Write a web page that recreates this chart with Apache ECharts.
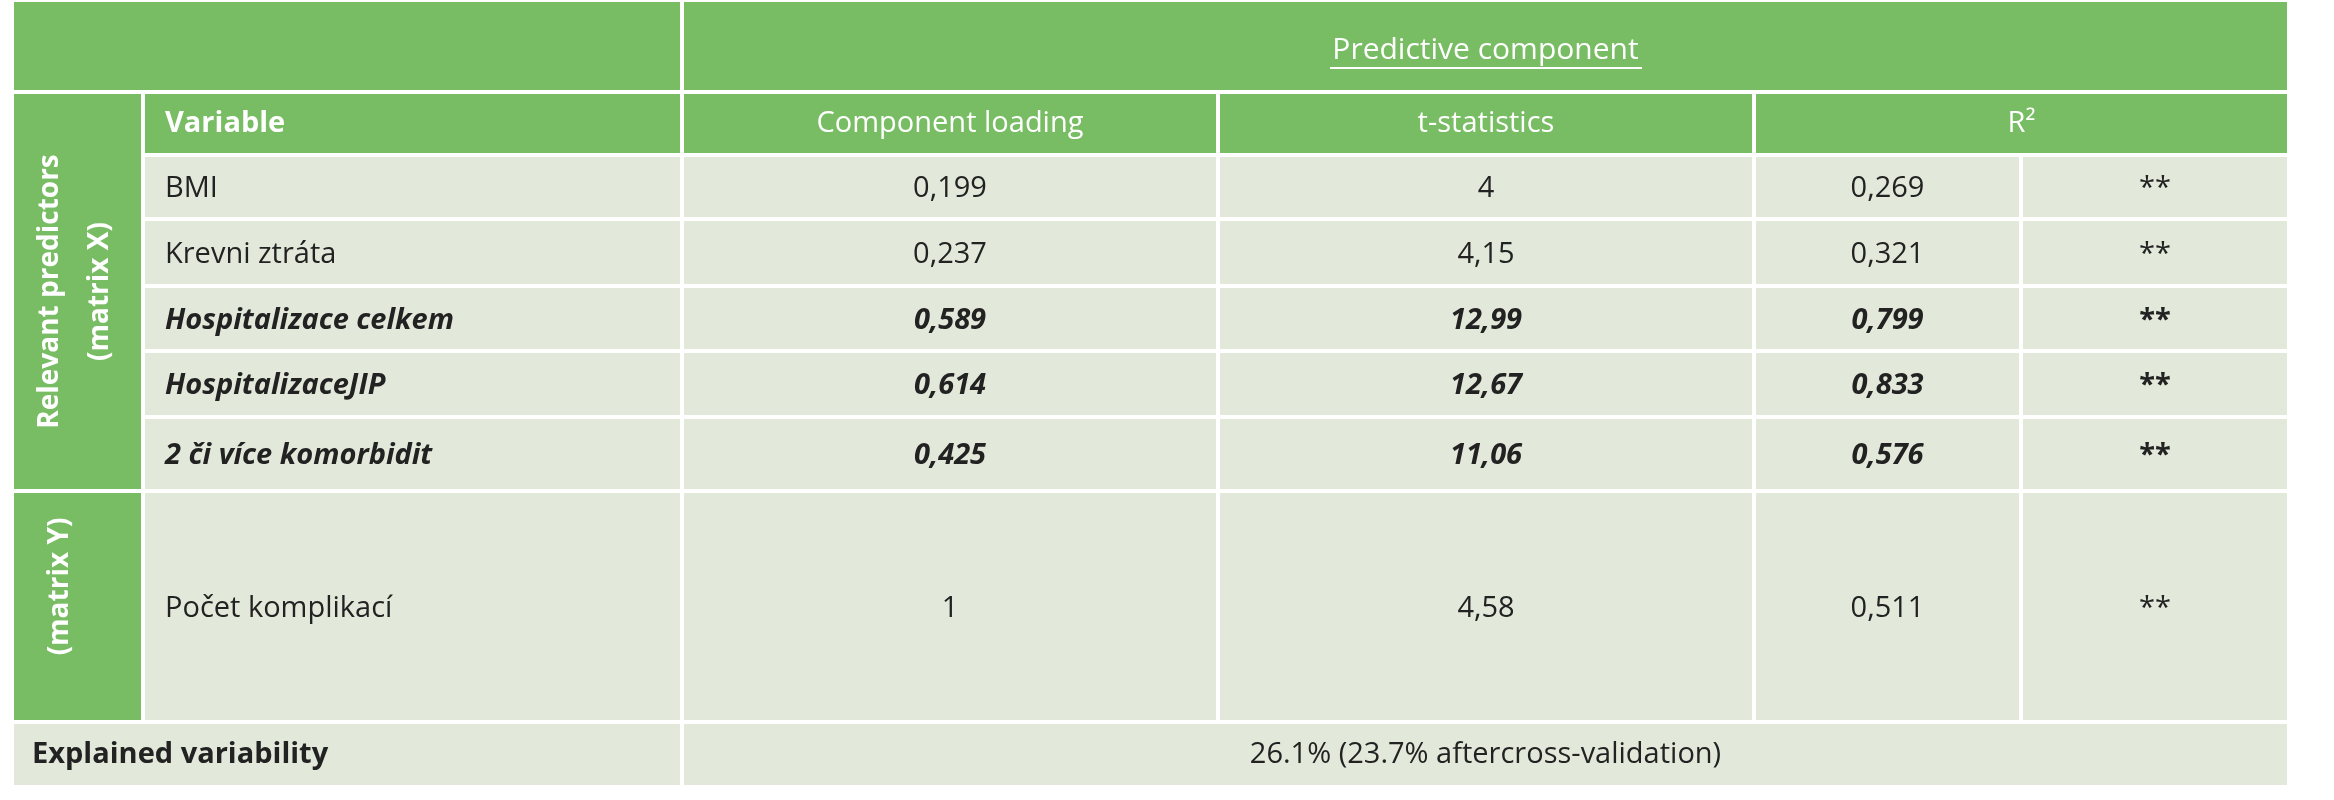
<!DOCTYPE html>
<html>
<head>
<meta charset="utf-8">
<script src="https://cdn.jsdelivr.net/npm/echarts@6/dist/echarts.min.js"></script>
<style>html,body{margin:0;padding:0;background:#fff}#main{width:2334px;height:800px}</style>
</head>
<body>
<div id="main"></div>
<script>
// data of the table
var variables = ['BMI', 'Krevni ztráta', 'Hospitalizace celkem', 'HospitalizaceJIP', '2 či více komorbidit', 'Počet komplikací'];
var loadings = ['0,199', '0,237', '0,589', '0,614', '0,425', '1'];
var tStats = ['4', '4,15', '12,99', '12,67', '11,06', '4,58'];
var r2 = ['0,269', '0,321', '0,799', '0,833', '0,576', '0,511'];
var signif = ['**', '**', '**', '**', '**', '**'];
var boldRows = [false, false, true, true, true, false];
var colHeaders = ['Variable', 'Component loading', 't-statistics', 'R²'];
var explained = '26.1% (23.7% aftercross-validation)';

// layout
var X = [12, 143, 682, 1218, 1754, 2021, 2289];
var Y = [0, 92, 155, 219, 286, 351, 417, 491, 722, 787];
var GREEN = '#78bd63', CELL = '#e3e9da', FONT = '"Liberation Sans Narrow", "Open Sans", sans-serif';
var gap = 4;

var els = [];
function rect(x0, y0, x1, y1, color) {
    els.push({type: 'rect', shape: {x: x0 + gap / 2, y: y0 + gap / 2, width: x1 - x0 - gap, height: y1 - y0 - gap}, style: {fill: color}});
}
function txt(s, x, y, opt) {
    opt = opt || {};
    els.push({type: 'text', x: x, y: y, rotation: opt.rot || 0, style: {
        text: s, fill: opt.color || '#222', font: (opt.weight || 'normal') + ' ' + (opt.size || 29) + 'px ' + FONT,
        align: opt.align || 'center', verticalAlign: 'middle'}});
}

// header rows
rect(X[0], Y[0], X[2], Y[1], GREEN);
rect(X[2], Y[0], X[6], Y[1], GREEN);
var titleY = 50;
txt('Predictive component', (X[2] + X[6]) / 2, titleY, {color: '#fff', size: 30});
els.push({type: 'line', shape: {x1: 1330, y1: titleY + 18, x2: 1642, y2: titleY + 18}, style: {stroke: '#fff', lineWidth: 2}});
rect(X[0], Y[1], X[1], Y[7], GREEN);
rect(X[0], Y[7], X[1], Y[8], GREEN);
txt('Relevant predictors', 50, (Y[1] + Y[7]) / 2, {color: '#fff', weight: 'bold', rot: Math.PI / 2, size: 28});
txt('(matrix X)', 100, (Y[1] + Y[7]) / 2, {color: '#fff', weight: 'bold', rot: Math.PI / 2, size: 28});
txt('(matrix Y)', 60, (Y[7] + Y[8]) / 2 - 20, {color: '#fff', weight: 'bold', rot: Math.PI / 2, size: 28});

var hx = [X[1], X[2], X[3], X[4], X[6]];
for (var c = 0; c < 4; c++) {
    rect(hx[c], Y[1], hx[c + 1], Y[2], GREEN);
    if (c === 0) txt(colHeaders[c], hx[c] + 22, (Y[1] + Y[2]) / 2, {color: '#fff', weight: 'bold', align: 'left'});
    else txt(colHeaders[c], (hx[c] + hx[c + 1]) / 2, (Y[1] + Y[2]) / 2, {color: '#fff'});
}

// body rows
for (var i = 0; i < variables.length; i++) {
    var y0 = Y[i + 2], y1 = Y[i + 3], ym = (y0 + y1) / 2 + 2;
    var o = {weight: boldRows[i] ? 'italic bold' : 'normal'};
    for (var k = 1; k < 6; k++) rect(X[k], y0, X[k + 1], y1, CELL);
    txt(variables[i], X[1] + 22, ym, {weight: o.weight, align: 'left'});
    txt(loadings[i], (X[2] + X[3]) / 2, ym, o);
    txt(tStats[i], (X[3] + X[4]) / 2, ym, o);
    txt(r2[i], (X[4] + X[5]) / 2, ym, o);
    txt(signif[i], (X[5] + X[6]) / 2, ym, {weight: boldRows[i] ? 'bold' : 'normal'});
}

// footer
rect(X[0], Y[8], X[2], Y[9], CELL);
rect(X[2], Y[8], X[6], Y[9], CELL);
txt('Explained variability', X[0] + 20, (Y[8] + Y[9]) / 2, {weight: 'bold', align: 'left'});
txt(explained, (X[2] + X[6]) / 2, (Y[8] + Y[9]) / 2);

var chart = echarts.init(document.getElementById('main'));
chart.setOption({backgroundColor: '#fff', graphic: {elements: els}});
</script>
</body>
</html>
